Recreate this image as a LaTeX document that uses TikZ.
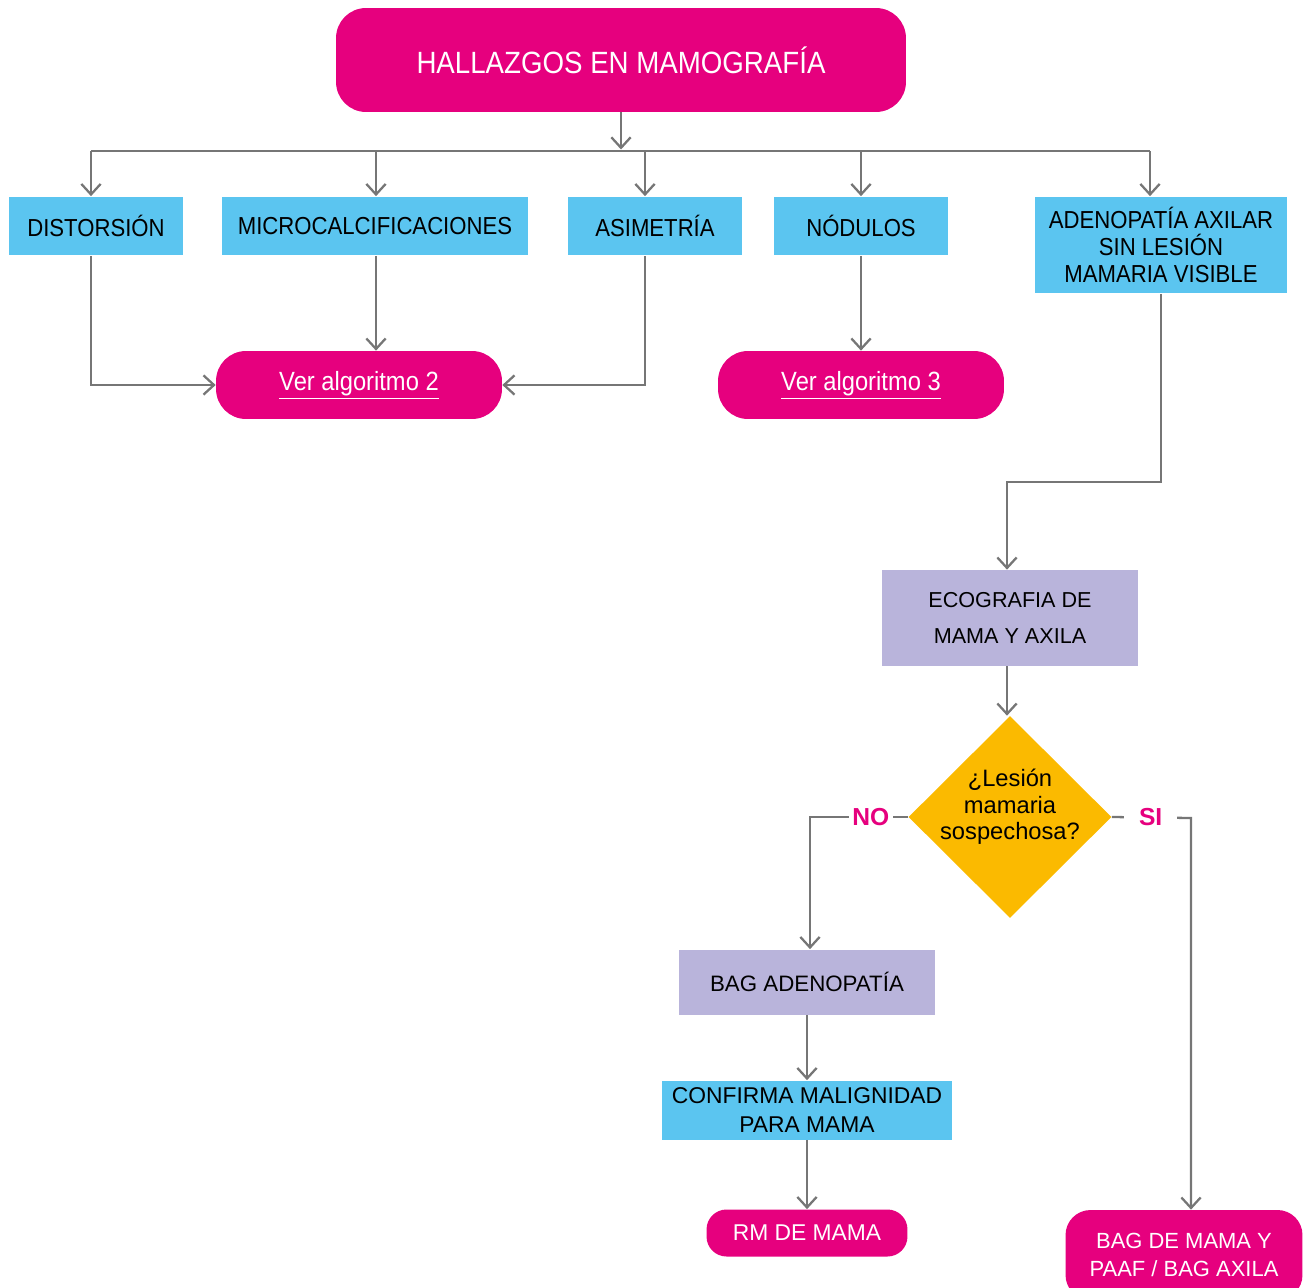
\documentclass[tikz,border=0pt]{standalone}
\usepackage{fontspec}
\setmainfont{Liberation Sans}
\newfontfamily\narrowfont[FakeStretch=0.9]{Liberation Sans}
\usepackage{tikz}
\usetikzlibrary{arrows.meta,shapes.geometric}

\definecolor{hotpink}{HTML}{E6007E}
\definecolor{skyblue}{HTML}{5BC5F0}
\definecolor{lavender}{HTML}{B9B4DB}
\definecolor{amber}{HTML}{FBBA00}
\definecolor{wiregray}{HTML}{767676}

\begin{document}
\begin{tikzpicture}
[
    x = 0.02cm, y = -0.02cm,
    wire/.style = {draw=wiregray, line width=1.3pt},
    arrow/.style = {wire, -{Straight Barb[length=6pt,width=11pt]}},
    pinkbox/.style = {fill=hotpink, text=white, rounded corners=0.6cm, align=center},
    bluebox/.style = {fill=skyblue, text=black, align=center, inner sep=0pt},
    lilacbox/.style = {fill=lavender, text=black, align=center, inner sep=0pt},
    answer/.style = {fill=white, text=hotpink, font=\fontsize{14}{16}\selectfont\bfseries},
]
\useasboundingbox (0,0) rectangle (1309,1288);

% first row
\node[pinkbox, minimum width=11.4cm, minimum height=2.08cm,
      font=\narrowfont\fontsize{17.5}{20}\selectfont] (hallazgos) at (621,60) {HALLAZGOS EN MAMOGRAFÍA};

\node[bluebox, minimum width=3.5cm, minimum height=1.18cm,
      font=\narrowfont\fontsize{14}{16}\selectfont] (distorsion) at (96,226) {DISTORSIÓN};
\node[bluebox, minimum width=6.14cm, minimum height=1.18cm,
      font=\narrowfont\fontsize{14}{16}\selectfont] (micro) at (375,226) {MICROCALCIFICACIONES};
\node[bluebox, minimum width=3.5cm, minimum height=1.18cm,
      font=\narrowfont\fontsize{14}{16}\selectfont] (asimetria) at (655,226) {ASIMETRÍA};
\node[bluebox, minimum width=3.48cm, minimum height=1.18cm,
      font=\narrowfont\fontsize{14}{16}\selectfont] (nodulos) at (861,226) {NÓDULOS};
\node[bluebox, minimum width=5.06cm, minimum height=1.94cm,
      font=\narrowfont\fontsize{14}{15.5}\selectfont] (adenopatia) at (1161,245)
    {ADENOPATÍA AXILAR\\SIN LESIÓN\\MAMARIA VISIBLE};

\node[pinkbox, minimum width=5.72cm, minimum height=1.36cm,
      font=\narrowfont\fontsize{15}{17}\selectfont] (alg2) at (359,385) {\underline{Ver algoritmo 2}};
\node[pinkbox, minimum width=5.72cm, minimum height=1.36cm,
      font=\narrowfont\fontsize{15}{17}\selectfont] (alg3) at (861,385) {\underline{Ver algoritmo 3}};

% axila branch
\node[lilacbox, minimum width=5.12cm, minimum height=1.92cm,
      font=\fontsize{12.3}{21}\selectfont] (ecografia) at (1010,618) {ECOGRAFIA DE\\MAMA Y AXILA};
\node[diamond, aspect=1, fill=amber, inner sep=0pt, minimum width=4.06cm, minimum height=4.04cm]
    (lesion) at (1010,817) {};
\node[align=center, inner sep=0pt, font=\fontsize{13.5}{15}\selectfont] (pregunta) at (1010,807)
    {¿Lesión\\mamaria\\sospechosa?};
\node[lilacbox, minimum width=5.12cm, minimum height=1.3cm,
      font=\fontsize{12.7}{16}\selectfont] (bagadeno) at (807,982) {BAG ADENOPATÍA};
\node[bluebox, minimum width=5.8cm, minimum height=1.18cm,
      font=\fontsize{13}{16}\selectfont] (confirma) at (807,1110) {CONFIRMA MALIGNIDAD\\PARA MAMA};
\node[pinkbox, rounded corners=0.4cm, minimum width=4.02cm, minimum height=0.94cm,
      font=\fontsize{13}{16}\selectfont] (rm) at (807,1233) {RM DE MAMA};
\node[pinkbox, rounded corners=0.5cm, minimum width=4.74cm, minimum height=1.8cm,
      font=\fontsize{12.5}{16}\selectfont] (bagmama) at (1184,1255) {BAG DE MAMA Y\\PAAF / BAG AXILA};

% connectors
\coordinate (bus) at (621,151);
\coordinate (b1) at (91,151);
\coordinate (b2) at (376,151);
\coordinate (b3) at (645,151);
\coordinate (b4) at (861,151);
\coordinate (b5) at (1150,151);
\coordinate (bend) at (1007,482);
\coordinate (sicorner) at (1191,818);

\draw[arrow] (hallazgos.south) -- ([yshift=0.03cm]bus);
\draw[wire] (b1) -- (b5);
\draw[arrow] (b1) -- (b1 |- distorsion.north);
\draw[arrow] (b2) -- (b2 |- micro.north);
\draw[arrow] (b3) -- (b3 |- asimetria.north);
\draw[arrow] (b4) -- (b4 |- nodulos.north);
\draw[arrow] (b5) -- (b5 |- adenopatia.north);

\draw[arrow] (b1 |- distorsion.south) |- (alg2.west);
\draw[arrow] (b2 |- micro.south) -- (b2 |- alg2.north);
\draw[arrow] (b3 |- asimetria.south) |- (alg2.east);
\draw[arrow] (nodulos.south) -- (alg3.north);

\draw[arrow] (adenopatia.south) |- (bend) -- (bend |- ecografia.north);
\draw[arrow] (bend |- ecografia.south) -- (bend |- lesion.north);

\draw[arrow] (lesion.west) -| node[answer, pos=0.19, inner xsep=2pt] {NO} ([xshift=0.06cm]bagadeno.north);
\draw[arrow] (lesion.east) -- node[answer, pos=0.49, inner xsep=0.3cm] {SI} (sicorner) -- (sicorner |- bagmama.north);

\draw[arrow] (bagadeno.south) -- (confirma.north);
\draw[arrow] (confirma.south) -- (rm.north);
\end{tikzpicture}
\end{document}
